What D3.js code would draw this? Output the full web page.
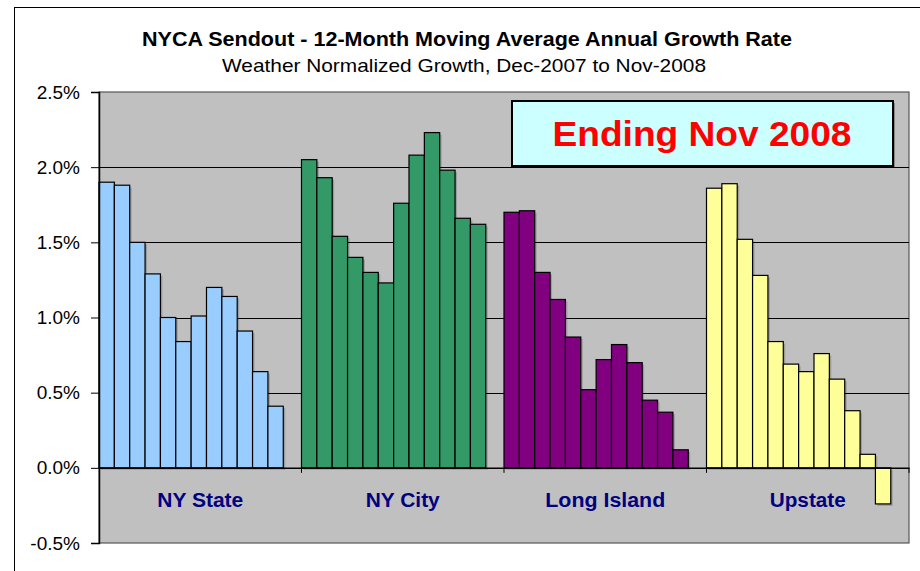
<!DOCTYPE html>
<html>
<head>
<meta charset="utf-8">
<script src="https://cdn.jsdelivr.net/npm/d3@7"></script>
<style>
  body { margin: 0; background: #fff; }
  svg { display: block; font-family: "Liberation Sans", Arial, sans-serif; }
</style>
</head>
<body>
<svg width="920" height="571"></svg>
<script>
// data (annual growth rate, 12-month moving average)
var regions = ["NY State", "NY City", "Long Island", "Upstate"];
var months = ["Dec-07", "Jan-08", "Feb-08", "Mar-08", "Apr-08", "May-08",
              "Jun-08", "Jul-08", "Aug-08", "Sep-08", "Oct-08", "Nov-08"];
var nyState    = [1.90, 1.88, 1.50, 1.29, 1.00, 0.84, 1.01, 1.20, 1.14, 0.91, 0.64, 0.41];
var nyCity     = [2.05, 1.93, 1.54, 1.40, 1.30, 1.23, 1.76, 2.08, 2.23, 1.98, 1.66, 1.62];
var longIsland = [1.70, 1.71, 1.30, 1.12, 0.87, 0.52, 0.72, 0.82, 0.70, 0.45, 0.37, 0.12];
var upstate    = [1.86, 1.89, 1.52, 1.28, 0.84, 0.69, 0.64, 0.76, 0.59, 0.38, 0.09, -0.24];
var yTicks = [-0.5, 0, 0.5, 1.0, 1.5, 2.0, 2.5];

var series = [nyState, nyCity, longIsland, upstate];
var colors = ["#99CCFF", "#339966", "#800080", "#FFFF99"];

var svg = d3.select("svg");

// chart area frame
svg.append("rect")
    .attr("x", 14.5).attr("y", 7.5)
    .attr("width", 960).attr("height", 600)
    .attr("fill", "#fff").attr("stroke", "#000").attr("stroke-width", 1);

var x0 = d3.scaleBand().domain(regions).range([99, 909]);
var x1 = d3.scaleBand().domain(months).range([0, x0.bandwidth() * 0.91]);
var y = d3.scaleLinear().domain([-0.5, 2.5]).range([543, 92]);

// plot area
svg.append("rect")
    .attr("x", x0.range()[0]).attr("y", y(2.5))
    .attr("width", x0.range()[1] - x0.range()[0])
    .attr("height", y(-0.5) - y(2.5))
    .attr("fill", "#C0C0C0").attr("stroke", "#555").attr("stroke-width", 1.2);

// gridlines
svg.append("g").selectAll("line")
    .data(yTicks.filter(function(d) { return d > 0 && d < 2.5; }))
    .enter().append("line")
    .attr("x1", x0.range()[0]).attr("x2", x0.range()[1])
    .attr("y1", function(d) { return Math.round(y(d)) + 0.5; })
    .attr("y2", function(d) { return Math.round(y(d)) + 0.5; })
    .attr("stroke", "#000").attr("stroke-width", 1);

// bars
var groups = svg.append("g").selectAll("g")
    .data(regions)
    .enter().append("g")
    .attr("transform", function(d) { return "translate(" + x0(d) + ",0)"; });

groups.each(function(r, i) {
    var g = d3.select(this);
    var vals = series[i].map(function(v, j) { return {m: months[j], v: v}; });
    // soft shadow
    g.selectAll("rect.sh").data(vals).enter().append("rect")
        .attr("class", "sh")
        .attr("x", function(d) { return x1(d.m) + 2; })
        .attr("y", function(d) { return Math.min(y(d.v), y(0)) + 2; })
        .attr("width", x1.bandwidth())
        .attr("height", function(d) { return Math.abs(y(d.v) - y(0)); })
        .attr("fill", "#000").attr("opacity", 0.18);
    g.selectAll("rect.bar").data(vals).enter().append("rect")
        .attr("class", "bar")
        .attr("x", function(d) { return x1(d.m); })
        .attr("y", function(d) { return Math.min(y(d.v), y(0)); })
        .attr("width", x1.bandwidth())
        .attr("height", function(d) { return Math.abs(y(d.v) - y(0)); })
        .attr("fill", colors[i]).attr("stroke", "#000").attr("stroke-width", 1.2);
});

// category axis at zero
var xAxis = svg.append("g")
    .attr("transform", "translate(0," + y(0) + ")")
    .call(d3.axisBottom(x0).tickSize(0).tickFormat(""));
xAxis.select(".domain").attr("stroke", "#000").attr("stroke-width", 1.5);
svg.append("g").selectAll("line")
    .data(regions)
    .enter().append("line")
    .attr("x1", function(d) { return x0(d) + x0.bandwidth(); })
    .attr("x2", function(d) { return x0(d) + x0.bandwidth(); })
    .attr("y1", y(0)).attr("y2", y(0) + 5)
    .attr("stroke", "#000");

var catWidths = [86, 74, 120, 76];
svg.append("g").selectAll("text")
    .data(regions)
    .enter().append("text")
    .attr("x", function(d) { return x0(d) + x0.bandwidth() / 2; })
    .attr("y", 507)
    .attr("text-anchor", "middle")
    .attr("font-size", 19.5).attr("font-weight", "bold")
    .attr("fill", "#000080")
    .attr("textLength", function(d, i) { return catWidths[i]; })
    .attr("lengthAdjust", "spacingAndGlyphs")
    .text(function(d) { return d; });

// value axis
var yAxis = svg.append("g")
    .attr("transform", "translate(" + x0.range()[0] + ",0)")
    .call(d3.axisLeft(y).tickValues(yTicks).tickSize(8).tickPadding(11)
        .tickFormat(function(d) { return d.toFixed(1) + "%"; }));
yAxis.select(".domain").attr("stroke", "#000").attr("stroke-width", 1.5);
yAxis.selectAll("text").attr("font-size", 19).attr("fill", "#000")
    .attr("font-family", "Liberation Sans, Arial, sans-serif");

// titles
svg.append("text")
    .attr("x", 467).attr("y", 46)
    .attr("text-anchor", "middle")
    .attr("font-size", 19.5).attr("font-weight", "bold")
    .attr("textLength", 650).attr("lengthAdjust", "spacingAndGlyphs")
    .text("NYCA Sendout - 12-Month Moving Average Annual Growth Rate");
svg.append("text")
    .attr("x", 464).attr("y", 72)
    .attr("text-anchor", "middle")
    .attr("font-size", 18.5)
    .attr("textLength", 484).attr("lengthAdjust", "spacingAndGlyphs")
    .text("Weather Normalized Growth, Dec-2007 to Nov-2008");

// "Ending" label box
svg.append("rect")
    .attr("x", 514).attr("y", 103).attr("width", 381).attr("height", 65)
    .attr("fill", "#000").attr("opacity", 0.3);
svg.append("rect")
    .attr("x", 512).attr("y", 101).attr("width", 381).attr("height", 65)
    .attr("fill", "#CCFFFF").attr("stroke", "#000").attr("stroke-width", 2);
svg.append("text")
    .attr("x", 702).attr("y", 146)
    .attr("text-anchor", "middle")
    .attr("font-size", 35).attr("font-weight", "bold")
    .attr("fill", "#FF0000")
    .attr("textLength", 299).attr("lengthAdjust", "spacingAndGlyphs")
    .text("Ending Nov 2008");
</script>
</body>
</html>
